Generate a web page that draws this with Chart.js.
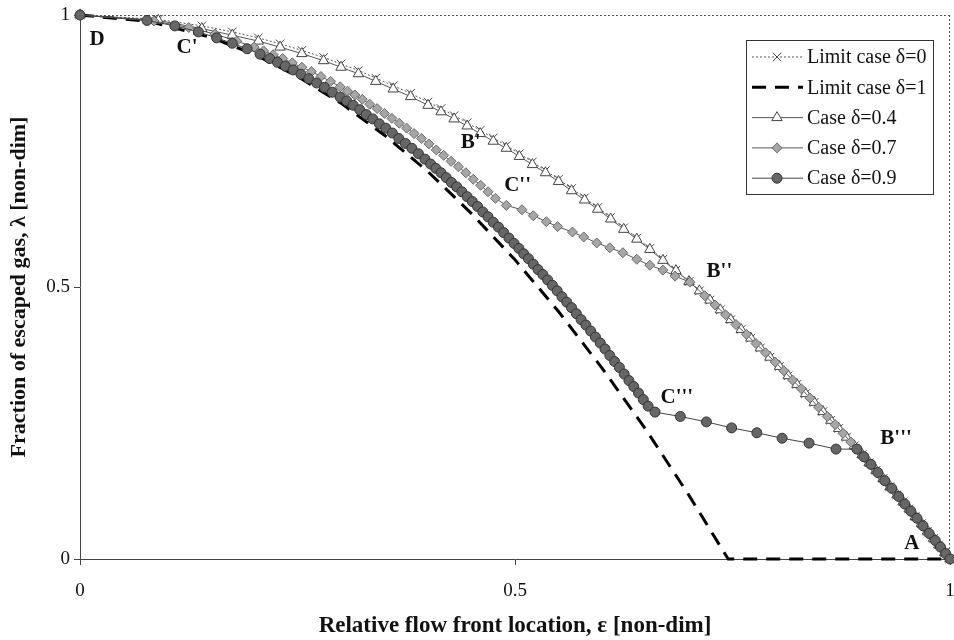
<!DOCTYPE html>
<html>
<head>
<meta charset="utf-8">
<script src="https://cdn.jsdelivr.net/npm/chart.js@4.4.0/dist/chart.umd.min.js"></script>
<style>
  body { margin: 0; background: #fff; }
  #wrap { width: 954px; height: 640px; }
</style>
</head>
<body>
<div id="wrap"><canvas id="gas-chart" width="954" height="640"></canvas></div>
<script>
// relative flow front location (x) and fraction of escaped gas (y)

// limit case delta=0 (crosses) and case delta=0.4 (triangles) share the same x positions
const epsLim0 = [0, 0.09, 0.14, 0.175, 0.205, 0.23, 0.255, 0.28, 0.30, 0.32, 0.34, 0.36, 0.38, 0.40,
  0.415, 0.43, 0.445, 0.46, 0.475, 0.49, 0.505, 0.52, 0.535, 0.55, 0.565, 0.58, 0.595, 0.61, 0.625,
  0.64, 0.655, 0.67, 0.685, 0.70, 0.712, 0.724, 0.736, 0.748, 0.76, 0.771, 0.782, 0.793, 0.804,
  0.814, 0.824, 0.834, 0.844, 0.854, 0.863, 0.872, 0.881, 0.89, 0.899, 0.907, 0.915, 0.923, 0.931,
  0.939, 0.946, 0.953, 0.96, 0.967, 0.974, 0.981, 0.987, 0.994, 1.0];
const lamLim0 = [1, 0.992, 0.980, 0.969, 0.958, 0.947, 0.935, 0.922, 0.910, 0.898, 0.884, 0.870, 0.856, 0.840,
  0.828, 0.815, 0.802, 0.788, 0.774, 0.760, 0.745, 0.730, 0.714, 0.698, 0.681, 0.664, 0.646, 0.628, 0.609,
  0.590, 0.571, 0.551, 0.531, 0.510, 0.493, 0.476, 0.458, 0.440, 0.422, 0.406, 0.388, 0.371, 0.354,
  0.337, 0.321, 0.304, 0.288, 0.271, 0.255, 0.240, 0.224, 0.208, 0.192, 0.177, 0.163, 0.148, 0.133,
  0.118, 0.105, 0.092, 0.078, 0.065, 0.051, 0.038, 0.026, 0.012, 0];
const lamCase04 = [1, 0.990, 0.975, 0.963, 0.952, 0.941, 0.929, 0.916, 0.904, 0.892, 0.878, 0.864, 0.850, 0.834,
  0.822, 0.809, 0.796, 0.782, 0.768, 0.755, 0.740, 0.725, 0.710, 0.694, 0.677, 0.660, 0.643, 0.625, 0.606,
  0.588, 0.569, 0.549, 0.530, 0.510, 0.493, 0.476, 0.458, 0.440, 0.422, 0.406, 0.388, 0.371, 0.354,
  0.337, 0.321, 0.304, 0.288, 0.271, 0.255, 0.240, 0.224, 0.208, 0.192, 0.177, 0.163, 0.148, 0.133,
  0.118, 0.105, 0.092, 0.078, 0.065, 0.051, 0.038, 0.026, 0.012, 0];

// limit case delta=1 (dashed)
const epsLim1 = [0, 0.08, 0.15, 0.2, 0.25, 0.3, 0.35, 0.4, 0.45, 0.5, 0.55, 0.6, 0.65, 0.7, 0.745, 1.0];
const lamLim1 = [1, 0.988, 0.959, 0.928, 0.887, 0.838, 0.779, 0.712, 0.635, 0.550, 0.455, 0.351, 0.239, 0.117, 0, 0];

// case delta=0.7 (diamonds)
const epsCase07 = [0, 0.085, 0.125, 0.155, 0.18,
  0.2, 0.211, 0.222, 0.233, 0.244, 0.255, 0.266, 0.277, 0.288, 0.299, 0.3075, 0.316, 0.3245, 0.333,
  0.3415, 0.35, 0.3585, 0.367, 0.3755, 0.384, 0.3925, 0.401, 0.4095, 0.418, 0.4265, 0.435, 0.4435,
  0.452, 0.4605, 0.469, 0.4775, 0.49,
  0.508, 0.521, 0.536, 0.549, 0.566, 0.579, 0.594, 0.609, 0.624, 0.640, 0.655, 0.670, 0.684, 0.701,
  0.718, 0.73, 0.742, 0.754, 0.766, 0.777, 0.788, 0.799, 0.809, 0.819, 0.829, 0.839, 0.849, 0.859,
  0.868, 0.877, 0.886, 0.895, 0.903, 0.911, 0.919, 0.927, 0.935, 0.943, 0.95, 0.957, 0.964, 0.971,
  0.978, 0.984, 0.99, 0.996, 1.0];
const lamCase07 = [1, 0.989, 0.977, 0.965, 0.952,
  0.941, 0.934, 0.927, 0.920, 0.912, 0.904, 0.896, 0.887, 0.878, 0.868, 0.860, 0.853, 0.845, 0.836,
  0.828, 0.819, 0.810, 0.801, 0.792, 0.782, 0.773, 0.763, 0.752, 0.742, 0.731, 0.721, 0.710,
  0.698, 0.687, 0.675, 0.663, 0.650,
  0.642, 0.631, 0.620, 0.611, 0.601, 0.592, 0.581, 0.572, 0.563, 0.551, 0.540, 0.531, 0.520, 0.509,
  0.484, 0.467, 0.449, 0.431, 0.413, 0.396, 0.379, 0.362, 0.346, 0.329, 0.313, 0.296, 0.279, 0.262,
  0.247, 0.231, 0.215, 0.199, 0.185, 0.170, 0.155, 0.141, 0.126, 0.111, 0.098, 0.084, 0.071, 0.057,
  0.044, 0.032, 0.020, 0.008, 0];

// case delta=0.9 (circles)
const epsCase09 = [0, 0.077, 0.109, 0.136, 0.157, 0.175, 0.192, 0.207,
  0.218, 0.227, 0.236, 0.245, 0.254, 0.263, 0.272, 0.281, 0.290, 0.299,
  0.3065, 0.314, 0.3215, 0.329, 0.3365, 0.344, 0.3515, 0.359, 0.3665, 0.374, 0.3815, 0.389, 0.3965,
  0.403, 0.409, 0.415, 0.421, 0.427, 0.433, 0.439, 0.445, 0.451, 0.457, 0.463, 0.469, 0.475, 0.481,
  0.487, 0.493, 0.499,
  0.5045, 0.51, 0.5155, 0.521, 0.5265, 0.532, 0.5375, 0.543, 0.5485, 0.554, 0.5595, 0.565, 0.5705,
  0.576, 0.5815, 0.587, 0.5925, 0.598, 0.6035, 0.609, 0.6145, 0.62, 0.6255, 0.631, 0.6365, 0.642,
  0.6475, 0.653, 0.661,
  0.69, 0.72, 0.749, 0.778, 0.807, 0.838, 0.869, 0.893,
  0.901, 0.909, 0.917, 0.925, 0.933, 0.941, 0.948, 0.955, 0.962, 0.969, 0.976, 0.983, 0.989, 0.995, 1.0];
const lamCase09 = [1, 0.990, 0.980, 0.969, 0.958, 0.948, 0.938, 0.928,
  0.920, 0.913, 0.906, 0.899, 0.891, 0.883, 0.875, 0.867, 0.858, 0.849,
  0.842, 0.834, 0.826, 0.817, 0.809, 0.800, 0.792, 0.783, 0.773, 0.764, 0.755, 0.745, 0.735,
  0.726, 0.718, 0.710, 0.701, 0.692, 0.684, 0.675, 0.666, 0.657, 0.648, 0.638, 0.629, 0.619, 0.610,
  0.600, 0.590, 0.580,
  0.571, 0.561, 0.552, 0.542, 0.532, 0.523, 0.513, 0.503, 0.493, 0.482, 0.472, 0.462, 0.451,
  0.440, 0.430, 0.419, 0.408, 0.397, 0.386, 0.374, 0.363, 0.352, 0.340, 0.328, 0.317, 0.305,
  0.293, 0.281, 0.270,
  0.262, 0.252, 0.241, 0.232, 0.222, 0.213, 0.202, 0.202,
  0.188, 0.174, 0.159, 0.144, 0.130, 0.115, 0.101, 0.088, 0.075, 0.061, 0.047, 0.034, 0.022, 0.010, 0];

// point names written on the plot
const pointNames = ["D", "C'", "B'", "C''", "B''", "C'''", "B'''", "A"];
const pointEps = [0.0195, 0.123, 0.449, 0.503, 0.735, 0.686, 0.938, 0.956];
const pointLam = [0.954, 0.940, 0.766, 0.686, 0.528, 0.296, 0.222, 0.029];

const serif = "'Liberation Serif', 'Times New Roman', serif";

function pts(xs, ys) {
  return xs.map((x, i) => ({ x: x, y: ys[i] }));
}

// plot frame: dotted top and right edges
const framePlugin = {
  id: 'frame',
  beforeDatasetsDraw(chart) {
    const a = chart.chartArea, ctx = chart.ctx;
    ctx.save();
    ctx.strokeStyle = '#555';
    ctx.lineWidth = 1;
    ctx.setLineDash([2, 2]);
    ctx.beginPath();
    ctx.moveTo(a.left, a.top + 0.5);
    ctx.lineTo(a.right, a.top + 0.5);
    ctx.moveTo(a.right - 0.5, a.top);
    ctx.lineTo(a.right - 0.5, a.bottom);
    ctx.stroke();
    ctx.restore();
  }
};

// letters D, C', B' ... next to the curves
const namesPlugin = {
  id: 'names',
  afterDatasetsDraw(chart) {
    const ctx = chart.ctx, xs = chart.scales.x, ys = chart.scales.y;
    ctx.save();
    ctx.font = "bold 21px " + serif;
    ctx.fillStyle = '#111';
    ctx.textAlign = 'center';
    ctx.textBaseline = 'middle';
    pointNames.forEach((n, i) => {
      ctx.fillText(n, xs.getPixelForValue(pointEps[i]), ys.getPixelForValue(pointLam[i]));
    });
    ctx.restore();
  }
};

function drawMarker(ctx, ds, x, y) {
  const r = ds.pointRadius;
  if (!r) return;
  ctx.save();
  ctx.setLineDash([]);
  ctx.fillStyle = ds.pointBackgroundColor;
  ctx.strokeStyle = ds.pointBorderColor;
  ctx.lineWidth = ds.pointBorderWidth;
  ctx.beginPath();
  if (ds.pointStyle === 'circle') {
    ctx.arc(x, y, r, 0, Math.PI * 2);
  } else if (ds.pointStyle === 'rectRot') {
    ctx.moveTo(x, y - r); ctx.lineTo(x + r, y); ctx.lineTo(x, y + r); ctx.lineTo(x - r, y); ctx.closePath();
  } else if (ds.pointStyle === 'triangle') {
    ctx.moveTo(x, y - r); ctx.lineTo(x + r * 0.866, y + r * 0.5); ctx.lineTo(x - r * 0.866, y + r * 0.5); ctx.closePath();
  } else if (ds.pointStyle === 'crossRot') {
    const d = r * 0.707;
    ctx.moveTo(x - d, y - d); ctx.lineTo(x + d, y + d);
    ctx.moveTo(x - d, y + d); ctx.lineTo(x + d, y - d);
    ctx.stroke(); ctx.restore(); return;
  }
  ctx.fill();
  ctx.stroke();
  ctx.restore();
}

// boxed legend in the upper right corner
const legendBoxPlugin = {
  id: 'legendBox',
  afterDraw(chart) {
    const ctx = chart.ctx;
    const bx = 746, by = 40, bw = 187, bh = 154;
    ctx.save();
    ctx.fillStyle = '#fff';
    ctx.fillRect(bx, by, bw, bh);
    ctx.strokeStyle = '#333';
    ctx.lineWidth = 1;
    ctx.strokeRect(bx + 0.5, by + 0.5, bw, bh);
    chart.data.datasets.forEach((ds, i) => {
      const y = 57 + i * 30.3;
      ctx.save();
      ctx.strokeStyle = ds.borderColor;
      ctx.lineWidth = ds.borderWidth;
      ctx.setLineDash(ds.borderDash || []);
      ctx.beginPath();
      ctx.moveTo(752, y);
      ctx.lineTo(803, y);
      ctx.stroke();
      ctx.restore();
      drawMarker(ctx, ds, 777, y);
      ctx.font = "20px " + serif;
      ctx.fillStyle = '#111';
      ctx.textBaseline = 'middle';
      ctx.fillText(ds.label, 807, y + 1);
    });
    ctx.restore();
  }
};

new Chart("gas-chart", {
  type: "scatter",
  data: {
    datasets: [
      {
        label: "Limit case \u03b4=0",
        data: pts(epsLim0, lamLim0),
        showLine: true,
        borderColor: '#555',
        borderWidth: 1,
        borderDash: [2, 2],
        pointStyle: 'crossRot',
        pointRadius: 6,
        pointBorderColor: '#444',
        pointBackgroundColor: '#444',
        pointBorderWidth: 1,
        order: 5
      },
      {
        label: "Limit case \u03b4=1",
        data: pts(epsLim1, lamLim1),
        showLine: true,
        borderColor: '#000',
        borderWidth: 3,
        borderDash: [14, 9],
        pointRadius: 0,
        order: 4
      },
      {
        label: "Case \u03b4=0.4",
        data: pts(epsLim0, lamCase04),
        showLine: true,
        borderColor: '#555',
        borderWidth: 1,
        pointStyle: 'triangle',
        pointRadius: 6,
        pointBackgroundColor: '#fff',
        pointBorderColor: '#444',
        pointBorderWidth: 1,
        order: 3
      },
      {
        label: "Case \u03b4=0.7",
        data: pts(epsCase07, lamCase07),
        showLine: true,
        borderColor: '#555',
        borderWidth: 1,
        pointStyle: 'rectRot',
        pointRadius: 5,
        pointBackgroundColor: '#a6a6a6',
        pointBorderColor: '#6a6a6a',
        pointBorderWidth: 1,
        order: 2
      },
      {
        label: "Case \u03b4=0.9",
        data: pts(epsCase09, lamCase09),
        showLine: true,
        borderColor: '#444',
        borderWidth: 1,
        pointStyle: 'circle',
        pointRadius: 5,
        pointBackgroundColor: '#666',
        pointBorderColor: '#333',
        pointBorderWidth: 1,
        order: 1
      }
    ]
  },
  options: {
    responsive: false,
    animation: false,
    devicePixelRatio: 1,
    layout: { autoPadding: false, padding: { top: 15, right: 4, left: 0, bottom: 0 } },
    plugins: { legend: { display: false }, tooltip: { enabled: false } },
    elements: { line: { tension: 0 } },
    datasets: { scatter: { clip: false } },
    scales: {
      x: {
        type: 'linear', min: 0, max: 1,
        afterFit(s) { s.height = 81; s.paddingLeft = 0; s.paddingRight = 0; },
        ticks: {
          stepSize: 0.5, padding: 15, color: '#111', font: { family: serif, size: 19 },
          callback: v => String(v)
        },
        grid: { drawOnChartArea: false, drawTicks: true, tickLength: 6, color: '#444' },
        border: { color: '#444', width: 1 },
        title: {
          display: true, text: "Relative flow front location, \u03b5 [non-dim]", color: '#111',
          font: { family: serif, size: 23, weight: 'bold' }, padding: { top: -3, bottom: 0 }
        }
      },
      y: {
        type: 'linear', min: 0, max: 1,
        afterFit(s) { s.width = 80; s.paddingTop = 0; s.paddingBottom = 0; },
        ticks: {
          stepSize: 0.5, padding: 4, color: '#111', font: { family: serif, size: 19 },
          callback: v => String(v)
        },
        grid: { drawOnChartArea: false, drawTicks: true, tickLength: 6, color: '#444' },
        border: { color: '#444', width: 1 },
        title: {
          display: true, text: "Fraction of escaped gas, \u03bb [non-dim]", color: '#111',
          font: { family: serif, size: 22, weight: 'bold' }, padding: { top: 6, bottom: 0 }
        }
      }
    }
  },
  plugins: [framePlugin, namesPlugin, legendBoxPlugin]
});
</script>
</body>
</html>
